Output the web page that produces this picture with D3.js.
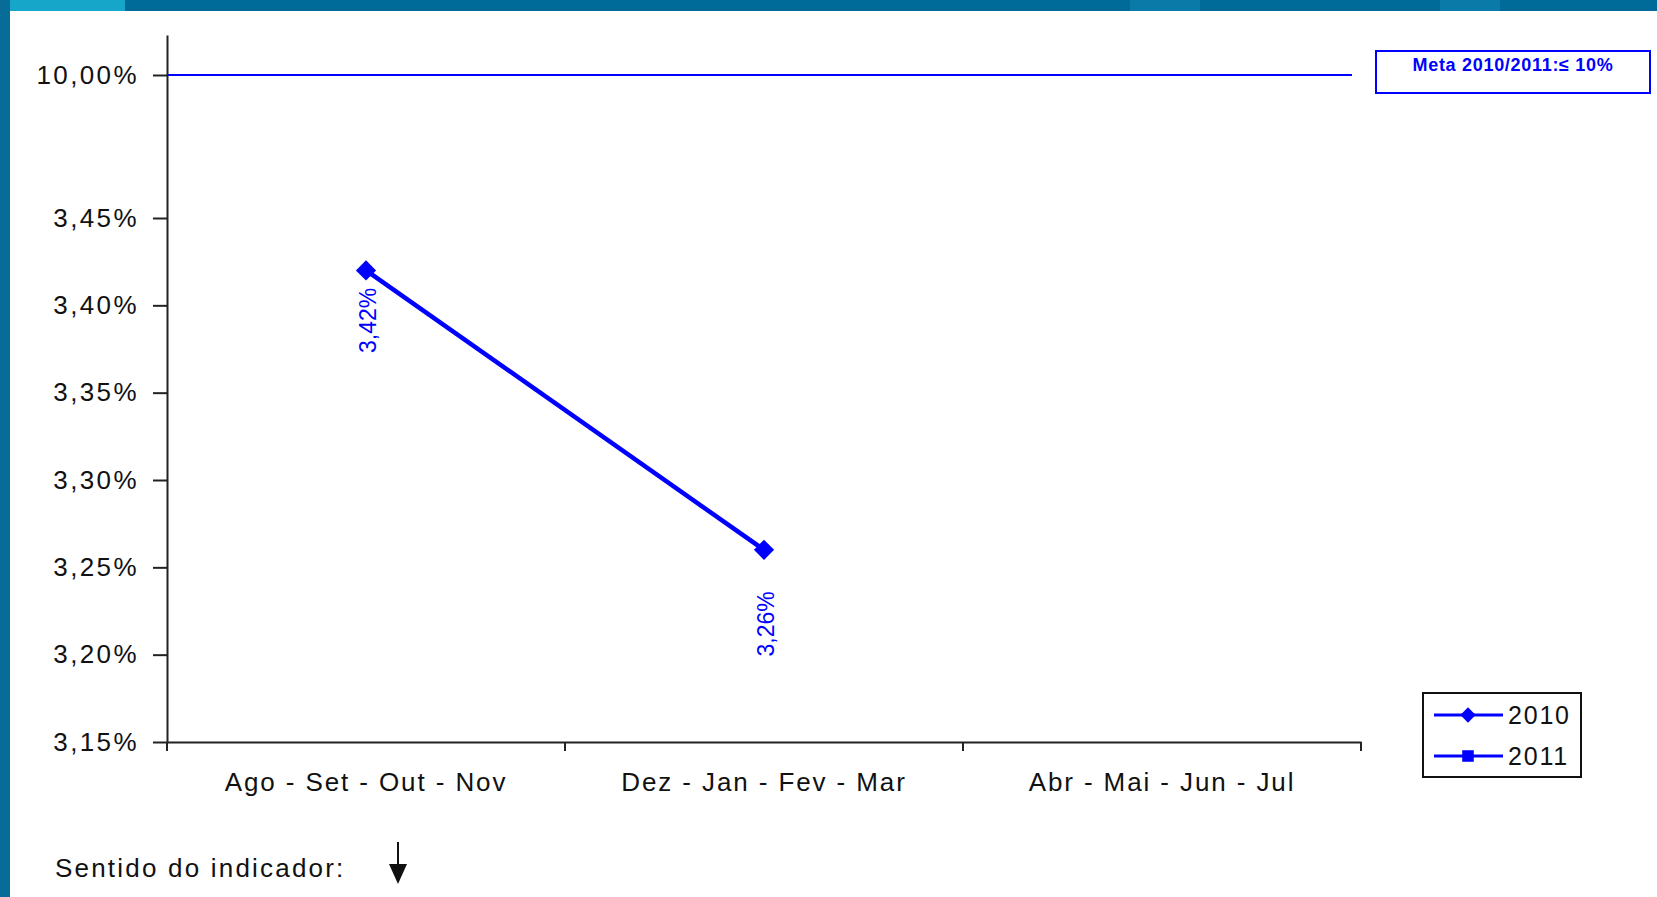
<!DOCTYPE html>
<html>
<head>
<meta charset="utf-8">
<script src="https://cdn.jsdelivr.net/npm/d3@7"></script>
<style>
  html, body { margin: 0; padding: 0; background: #fff; }
  svg { display: block; font-family: "Liberation Sans", Arial, sans-serif; }
</style>
</head>
<body>
<script>
// ---------- data ----------
const categories = ['Ago - Set - Out - Nov', 'Dez - Jan - Fev - Mar', 'Abr - Mai - Jun - Jul']
const seriesNames = ['2010', '2011']
const values2010 = [3.42, 3.26, null]
const values2011 = [null, null, null]
const yTicks = [3.15, 3.20, 3.25, 3.30, 3.35, 3.40, 3.45, 10.00]
const metaValue = 10
const metaLabel = 'Meta 2010/2011:\u2264 10%'

const W = 1657, H = 897
const blue = '#0000ff'

const svg = d3.select('body').append('svg')
    .attr('width', W)
    .attr('height', H)

// frame of the slide
svg.append('rect').attr('x', 0).attr('y', 0).attr('width', W).attr('height', 11).attr('fill', '#006a98')
svg.append('rect').attr('x', 0).attr('y', 0).attr('width', 125).attr('height', 11).attr('fill', '#16a6c9')
svg.append('rect').attr('x', 1130).attr('y', 0).attr('width', 70).attr('height', 11).attr('fill', '#0a7ba8')
svg.append('rect').attr('x', 1440).attr('y', 0).attr('width', 60).attr('height', 11).attr('fill', '#0a7ba8')
svg.append('rect').attr('x', 0).attr('y', 0).attr('width', 10).attr('height', H).attr('fill', '#086c98')

// ---------- scales ----------
// broken axis: 3,15 .. 3,45 evenly, then jump to 10,00
const y = d3.scaleLinear()
    .domain([3.15, 3.45, 10, 11.83])
    .range([742, 218, 75, 35])

const x = d3.scaleBand()
    .domain(categories)
    .range([167, 1361])

const fmt = d => d.toFixed(2).replace('.', ',') + '%'

// ---------- axes ----------
const yAxis = svg.append('g')
    .attr('transform', 'translate(167,0)')
    .call(d3.axisLeft(y).tickValues(yTicks).tickFormat(fmt).tickSizeInner(14).tickSizeOuter(0).tickPadding(14))
yAxis.select('.domain').attr('stroke', '#222').attr('stroke-width', 2)
yAxis.selectAll('.tick line').attr('stroke', '#222').attr('stroke-width', 2)
yAxis.selectAll('.tick text')
    .attr('font-size', 26)
    .attr('letter-spacing', 2.4)
    .attr('fill', '#111')
    .attr('font-family', '"Liberation Sans", Arial, sans-serif')

const xAxis = svg.append('g')
    .attr('transform', 'translate(0,742)')
    .call(d3.axisBottom(x).tickSize(0).tickPadding(31))
xAxis.select('.domain').attr('stroke', '#222').attr('stroke-width', 2)
xAxis.selectAll('.tick text')
    .attr('font-size', 26)
    .attr('letter-spacing', 1.9)
    .attr('fill', '#111')
    .attr('font-family', '"Liberation Sans", Arial, sans-serif')

// ticks on category borders
const borders = categories.map(c => x(c)).concat([x.range()[1]])
xAxis.selectAll('.border')
    .data(borders)
    .enter().append('line')
    .attr('x1', d => d).attr('x2', d => d)
    .attr('y1', 0).attr('y2', 9)
    .attr('stroke', '#222').attr('stroke-width', 2)

// ---------- meta line ----------
svg.append('line')
    .attr('x1', 167).attr('x2', 1352)
    .attr('y1', y(metaValue)).attr('y2', y(metaValue))
    .attr('stroke', blue).attr('stroke-width', 2)

svg.append('rect')
    .attr('x', 1376).attr('y', 51)
    .attr('width', 274).attr('height', 42)
    .attr('fill', '#fff').attr('stroke', blue).attr('stroke-width', 2)
svg.append('text')
    .attr('x', 1513).attr('y', 71)
    .attr('text-anchor', 'middle')
    .attr('font-size', 18)
    .attr('font-weight', 'bold')
    .attr('letter-spacing', 0.7)
    .attr('fill', blue)
    .text(metaLabel)

// ---------- series ----------
const pts2010 = categories.map((c, i) => ({ cat: c, v: values2010[i] })).filter(d => d.v !== null)

const line = d3.line()
    .x(d => x(d.cat) + x.bandwidth() / 2)
    .y(d => y(d.v))

svg.append('path')
    .datum(pts2010)
    .attr('d', line)
    .attr('fill', 'none')
    .attr('stroke', blue)
    .attr('stroke-width', 4.5)

const diamond = d3.symbol().type(d3.symbolDiamond2).size(260)
svg.selectAll('.pt')
    .data(pts2010)
    .enter().append('path')
    .attr('transform', d => 'translate(' + (x(d.cat) + x.bandwidth() / 2) + ',' + y(d.v) + ')')
    .attr('d', diamond)
    .attr('fill', blue)

// rotated value labels
svg.selectAll('.lbl')
    .data(pts2010)
    .enter().append('text')
    .attr('transform', (d, i) => {
        const cx = x(d.cat) + x.bandwidth() / 2 + 2
        const cy = y(d.v) + (i === 0 ? 50 : 74)
        return 'translate(' + cx + ',' + cy + ') rotate(-90)'
    })
    .attr('text-anchor', 'middle')
    .attr('dominant-baseline', 'central')
    .attr('font-size', 23)
    .attr('fill', blue)
    .text(d => fmt(d.v))

// ---------- legend ----------
const legend = svg.append('g').attr('transform', 'translate(1423,693)')
legend.append('rect')
    .attr('width', 158).attr('height', 84)
    .attr('fill', '#fff').attr('stroke', '#111').attr('stroke-width', 2)

const items = legend.selectAll('.item')
    .data(seriesNames)
    .enter().append('g')
    .attr('transform', (d, i) => 'translate(0,' + (22 + i * 41) + ')')
items.append('line')
    .attr('x1', 11).attr('x2', 80)
    .attr('stroke', blue).attr('stroke-width', 3)
items.append('path')
    .attr('transform', 'translate(45,0)')
    .attr('d', (d, i) => d3.symbol().type(i === 0 ? d3.symbolDiamond2 : d3.symbolSquare2).size(i === 0 ? 150 : 170)())
    .attr('fill', blue)
items.append('text')
    .attr('x', 85)
    .attr('dy', '0.36em')
    .attr('font-size', 25)
    .attr('letter-spacing', 1.8)
    .attr('fill', '#111')
    .text(d => d)

// ---------- footer ----------
svg.append('text')
    .attr('x', 55).attr('y', 877)
    .attr('font-size', 26)
    .attr('letter-spacing', 2.2)
    .attr('fill', '#111')
    .text('Sentido do indicador:')

svg.append('line')
    .attr('x1', 398).attr('x2', 398)
    .attr('y1', 842).attr('y2', 872)
    .attr('stroke', '#111').attr('stroke-width', 2)
svg.append('path')
    .attr('d', d3.line()([[389, 864], [407, 864], [398, 884]]))
    .attr('fill', '#111')
</script>
</body>
</html>
